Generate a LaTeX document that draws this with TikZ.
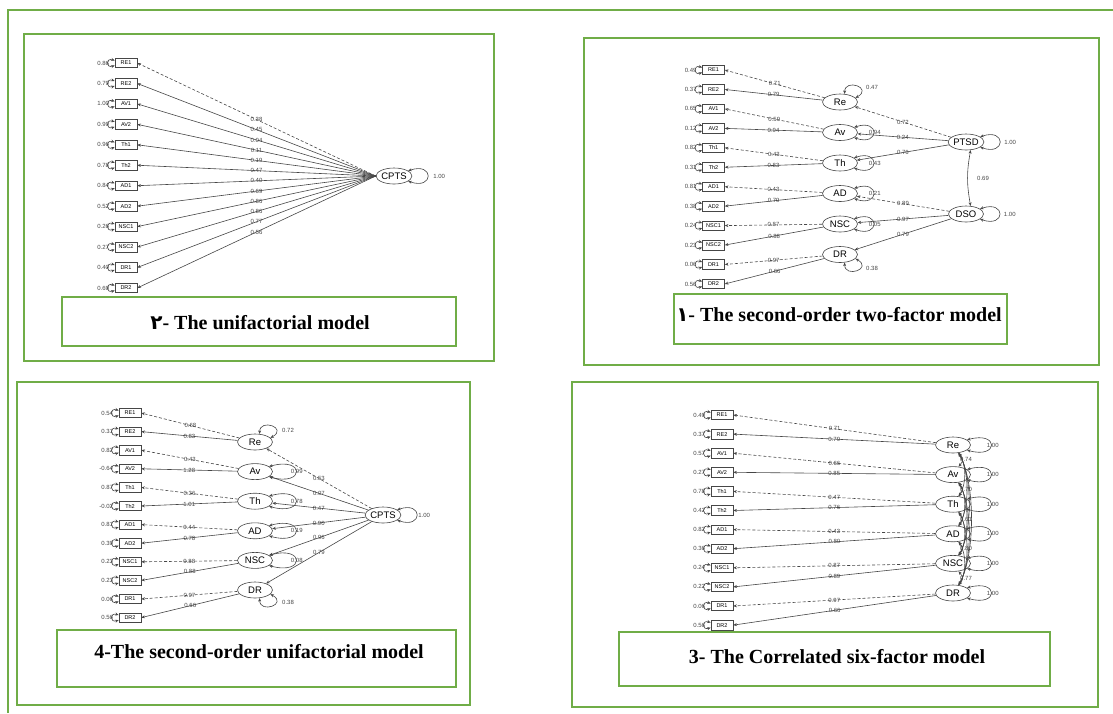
\documentclass[tikz,border=0pt]{standalone}
\usepackage{fontspec}
\setmainfont{Liberation Serif}
\newfontfamily\semfont{Liberation Sans}
\newfontfamily\arabicfont[Script=Arabic]{DejaVu Sans}
\TeXXeTstate=1
\usetikzlibrary{shapes.geometric,arrows.meta}

\definecolor{framegreen}{RGB}{112,173,71}
\definecolor{semgray}{RGB}{70,70,70}

\tikzset{
  outerframe/.style={draw=framegreen,line width=2pt},
  panel/.style={draw=framegreen,line width=2.5pt},
  titlebox/.style={draw=framegreen,line width=2pt,inner sep=0pt},
  titletext/.style={font=\fontsize{20}{24}\selectfont\bfseries,inner sep=0pt,anchor=base},
  manifest/.style={draw=semgray,line width=0.6pt,minimum width=22pt,minimum height=9.5pt,inner sep=0pt,font=\semfont\fontsize{5.5}{6}\selectfont},
  latent/.style={draw=semgray,ellipse,line width=0.6pt,minimum width=35pt,minimum height=16pt,inner sep=0pt,font=\semfont\fontsize{9.5}{10}\selectfont},
  freepath/.style={draw=semgray,line width=0.6pt,->},
  fixedpath/.style={freepath,dash pattern=on 3pt off 2pt},
  twoway/.style={draw=semgray,line width=0.6pt,<->},
  est/.style={font=\semfont\fontsize{6}{7}\selectfont,text=semgray,inner sep=0.5pt}
}

\begin{document}
\begin{tikzpicture}[x=1pt,y=-1pt,>={Stealth[length=3.6pt,width=3pt]}]
    \useasboundingbox (0,0) rectangle (1113,713);
    %% frame
    \draw[outerframe] (8,713) -- (8,10) -- (1113,10);

    %% 2- unifactorial model
    \draw[panel] (24,34) rectangle (494,361);
    \node[latent] (ACPTS) at (394,176) {CPTS};
    \draw[twoway] (ACPTS.20) .. controls +(26,-9) and +(26,9) .. (ACPTS.-20);
    \node[est] (Av0) at ([xshift=27pt]ACPTS.east) {1.00};
    \foreach \n/\r/\l/\s [count=\i] in {RE1/0.86/0.38/fixedpath, RE2/0.79/0.45/freepath,
        AV1/1.00/0.04/freepath, AV2/0.99/0.11/freepath, Th1/0.96/0.19/freepath, Th2/0.78/0.47/freepath,
        AD1/0.84/0.40/freepath, AD2/0.52/0.69/freepath, NSC1/0.26/0.86/freepath, NSC2/0.27/0.86/freepath,
        DR1/0.40/0.77/freepath, DR2/0.69/0.56/freepath}{
        \node[manifest] (A\n) at (126,{63+20.45*(\i-1)}) {\n};
        \draw[twoway] ([yshift=2.5pt]A\n.west) .. controls +(-9,-3) and +(-9,3) .. ([yshift=-2.5pt]A\n.west);
        \node[est,anchor=east] (Ar\i) at ([xshift=-5pt]A\n.west) {\r};
        \draw[\s] (ACPTS.west) -- node[est] (Al\i) {\l} (A\n.east);
    }
    \node[titlebox,minimum width=394pt,minimum height=49pt] (Abox) at (259,321.5) {};
    \node[titletext] (Atitle) at (260,329) {{\arabicfont\beginR ٢\endR}- The unifactorial model};

    %% 1- second-order two-factor model
    \draw[panel] (584,38) rectangle (1099,365);
    \foreach \f/\y in {Re/102,Av/132.5,Th/163,AD/193.5,NSC/224,DR/254.5}
        \node[latent] (B\f) at (840,\y) {\f};
    \node[latent] (BPTSD) at (966,142) {PTSD};
    \node[latent] (BDSO) at (966,214) {DSO};
    \foreach \n/\f/\r/\l/\s [count=\i] in {RE1/Re/0.49/0.71/fixedpath, RE2/Re/0.37/0.79/freepath,
        AV1/Av/0.65/0.59/fixedpath, AV2/Av/0.12/0.94/freepath, Th1/Th/0.82/0.43/fixedpath, Th2/Th/0.31/0.83/freepath,
        AD1/AD/0.81/0.43/fixedpath, AD2/AD/0.38/0.79/freepath, NSC1/NSC/0.24/0.87/fixedpath, NSC2/NSC/0.23/0.88/freepath,
        DR1/DR/0.06/0.97/fixedpath, DR2/DR/0.56/0.66/freepath}{
        \node[manifest] (B\n) at (713.5,{70+19.45*(\i-1)}) {\n};
        \draw[twoway] ([yshift=2.5pt]B\n.west) .. controls +(-9,-3) and +(-9,3) .. ([yshift=-2.5pt]B\n.west);
        \node[est,anchor=east] (Br\i) at ([xshift=-5pt]B\n.west) {\r};
        \draw[\s] (B\f) -- node[est] (Bl\i) {\l} (B\n.east);
    }
    \draw[fixedpath] (BPTSD) -- node[est] (Bs1) {0.72} (BRe);
    \draw[freepath] (BPTSD) -- node[est] (Bs2) {0.24} (BAv);
    \draw[freepath] (BPTSD) -- node[est] (Bs3) {0.76} (BTh);
    \draw[fixedpath] (BDSO) -- node[est] (Bs4) {0.89} (BAD);
    \draw[freepath] (BDSO) -- node[est] (Bs5) {0.97} (BNSC);
    \draw[freepath] (BDSO) -- node[est] (Bs6) {0.79} (BDR);
    % residuals of the factors
    \draw[twoway] (BRe.60) .. controls +(0,-16) and +(18,-10) .. (BRe.15);
    \node[est] (BvRe) at ([shift={(32,-15)}]BRe) {0.47};
    \foreach \f/\v in {Av/0.94,Th/0.43,AD/0.21,NSC/0.05}{
        \draw[twoway] (B\f.20) .. controls +(26,-9) and +(26,9) .. (B\f.-20);
        \node[est] (Bv\f) at ([xshift=17pt]B\f.east) {\v};
    }
    \draw[twoway] (BDR.-60) .. controls +(0,16) and +(18,10) .. (BDR.-15);
    \node[est] (BvDR) at ([shift={(32,14)}]BDR) {0.38};
    \foreach \f in {PTSD,DSO}{
        \draw[twoway] (B\f.20) .. controls +(26,-9) and +(26,9) .. (B\f.-20);
        \node[est] (Bv\f) at ([xshift=26pt]B\f.east) {1.00};
    }
    \draw[twoway] (BPTSD.-60) .. controls +(-4,22) and +(-4,-22) .. (BDSO.60);
    \node[est] (Bcor) at (983,178) {0.69};
    \node[titlebox,minimum width=333pt,minimum height=50pt] (Bbox) at (840.5,319) {};
    \node[titletext] (Btitle) at (839,321) {{\arabicfont\beginR ١\endR}- The second-order two-factor model};

    %% 4- second-order unifactorial model
    \draw[panel] (17,382) rectangle (470,705);
    \foreach \f/\y in {Re/442,Av/471.6,Th/501.2,AD/530.8,NSC/560.4,DR/590}
        \node[latent] (C\f) at (255,\y) {\f};
    \node[latent] (CCPTS) at (383,515) {CPTS};
    \foreach \n/\f/\r/\l/\s [count=\i] in {RE1/Re/0.54/0.68/fixedpath, RE2/Re/0.31/0.83/freepath,
        AV1/Av/0.82/0.43/fixedpath, AV2/Av/-0.64/1.28/freepath, Th1/Th/0.87/0.36/fixedpath, Th2/Th/-0.02/1.01/freepath,
        AD1/AD/0.81/0.44/fixedpath, AD2/AD/0.39/0.78/freepath, NSC1/NSC/0.23/0.88/fixedpath, NSC2/NSC/0.23/0.88/freepath,
        DR1/DR/0.06/0.97/fixedpath, DR2/DR/0.56/0.66/freepath}{
        \node[manifest] (C\n) at (130,{413+18.6*(\i-1)}) {\n};
        \draw[twoway] ([yshift=2.5pt]C\n.west) .. controls +(-9,-3) and +(-9,3) .. ([yshift=-2.5pt]C\n.west);
        \node[est,anchor=east] (Cr\i) at ([xshift=-5pt]C\n.west) {\r};
        \draw[\s] (C\f) -- node[est] (Cl\i) {\l} (C\n.east);
    }
    \draw[fixedpath] (CCPTS) -- node[est] (Cs1) {0.53} (CRe);
    \draw[freepath] (CCPTS) -- node[est] (Cs2) {0.07} (CAv);
    \draw[freepath] (CCPTS) -- node[est] (Cs3) {0.47} (CTh);
    \draw[freepath] (CCPTS) -- node[est] (Cs4) {0.90} (CAD);
    \draw[freepath] (CCPTS) -- node[est] (Cs5) {0.96} (CNSC);
    \draw[freepath] (CCPTS) -- node[est] (Cs6) {0.79} (CDR);
    % residuals of the factors
    \draw[twoway] (CRe.60) .. controls +(0,-16) and +(18,-10) .. (CRe.15);
    \node[est] (CvRe) at ([shift={(33,-12)}]CRe) {0.72};
    \foreach \f/\v in {Av/0.99,Th/0.78,AD/0.19,NSC/0.08}{
        \draw[twoway] (C\f.20) .. controls +(36,-10) and +(36,10) .. (C\f.-20);
        \node[est] (Cv\f) at ([xshift=24pt]C\f.east) {\v};
    }
    \draw[twoway] (CDR.-60) .. controls +(0,16) and +(18,10) .. (CDR.-15);
    \node[est] (CvDR) at ([shift={(33,12)}]CDR) {0.38};
    \draw[twoway] (CCPTS.20) .. controls +(26,-9) and +(26,9) .. (CCPTS.-20);
    \node[est] (CvCPTS) at ([xshift=23pt]CCPTS.east) {1.00};
    \node[titlebox,minimum width=399pt,minimum height=57pt] (Cbox) at (256.5,658.5) {};
    \node[titletext] (Ctitle) at (259,658) {4-The second-order unifactorial model};

    %% 3- correlated six-factor model
    \draw[panel] (572,382) rectangle (1098,707);
    \foreach \f/\y in {Re/445,Av/474.6,Th/504.2,AD/533.8,NSC/563.4,DR/593}
        \node[latent] (D\f) at (953,\y) {\f};
    \foreach \n/\f/\r/\l/\s [count=\i] in {RE1/Re/0.49/0.71/fixedpath, RE2/Re/0.37/0.79/freepath,
        AV1/Av/0.57/0.66/fixedpath, AV2/Av/0.27/0.85/freepath, Th1/Th/0.78/0.47/fixedpath, Th2/Th/0.42/0.76/freepath,
        AD1/AD/0.82/0.43/fixedpath, AD2/AD/0.36/0.80/freepath, NSC1/NSC/0.24/0.87/fixedpath, NSC2/NSC/0.22/0.89/freepath,
        DR1/DR/0.06/0.97/fixedpath, DR2/DR/0.56/0.66/freepath}{
        \node[manifest] (D\n) at (722,{415+19.1*(\i-1)}) {\n};
        \draw[twoway] ([yshift=2.5pt]D\n.west) .. controls +(-9,-3) and +(-9,3) .. ([yshift=-2.5pt]D\n.west);
        \node[est,anchor=east] (Dr\i) at ([xshift=-5pt]D\n.west) {\r};
        \draw[\s] (D\f) -- node[est] (Dl\i) {\l} (D\n.east);
    }
    \foreach \f in {Re,Av,Th,AD,NSC,DR}{
        \draw[twoway] (D\f.20) .. controls +(32,-9) and +(32,9) .. (D\f.-20);
        \node[est] (Dv\f) at ([xshift=22pt]D\f.east) {1.00};
    }
    % correlations of the factors
    \foreach \a/\b/\d in {Re/Av/1,Re/Th/2,Re/AD/3,Re/NSC/4,Re/DR/5,Av/Th/1,Av/AD/2,Av/NSC/3,Av/DR/4,
        Th/AD/1,Th/NSC/2,Th/DR/3,AD/NSC/1,AD/DR/2,NSC/DR/1}
        \draw[twoway] (D\a.-55) .. controls +({2+3*\d},{6*\d}) and +({2+3*\d},{-6*\d}) .. (D\b.55);
    \node[est] (Dc1) at (966,459) {0.74};
    \node[est] (Dc2) at (966,489) {0.70};
    \node[est] (Dc3) at (966,519) {0.61};
    \node[est] (Dc4) at (966,548) {0.80};
    \node[est] (Dc5) at (966,578) {0.77};
    \node[titlebox,minimum width=431pt,minimum height=54pt] (Dbox) at (834.5,659) {};
    \node[titletext] (Dtitle) at (837,663) {3- The Correlated six-factor model};
\end{tikzpicture}
\end{document}
